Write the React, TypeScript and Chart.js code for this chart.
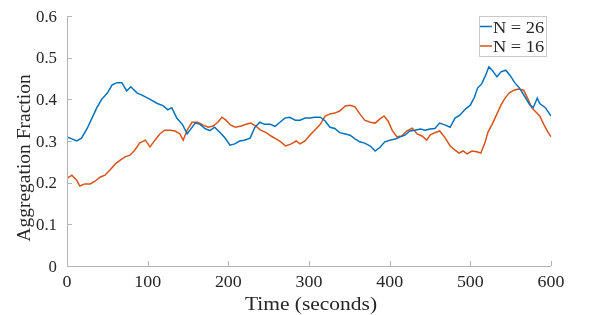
import React, { useEffect, useRef } from "react";
import { Chart, registerables } from "chart.js";

Chart.register(...registerables);

const timeN26 = [0, 6, 12, 18, 25, 31, 37, 43, 50, 56, 62, 68, 74, 79, 87, 93, 103, 112, 119, 125, 130, 136, 143, 149, 152, 159, 165, 171, 177, 183, 190, 196, 202, 208, 214, 220, 227, 233, 239, 245, 252, 258, 264, 270, 276, 283, 289, 295, 301, 307, 314, 320, 326, 332, 338, 345, 351, 357, 363, 369, 376, 382, 388, 394, 400, 407, 413, 419, 425, 431, 438, 444, 450, 456, 462, 469, 475, 481, 487, 493, 500, 505, 509, 514, 519, 523, 527, 533, 538, 544, 549, 555, 561, 568, 574, 578, 583, 586, 593, 600];
const valuesN26 = [0.31, 0.305, 0.3, 0.307, 0.33, 0.355, 0.38, 0.4, 0.415, 0.435, 0.44, 0.44, 0.42, 0.43, 0.415, 0.41, 0.4, 0.39, 0.385, 0.375, 0.38, 0.355, 0.34, 0.317, 0.325, 0.343, 0.34, 0.33, 0.325, 0.333, 0.32, 0.307, 0.29, 0.293, 0.3, 0.302, 0.307, 0.333, 0.345, 0.34, 0.34, 0.335, 0.345, 0.355, 0.357, 0.35, 0.35, 0.355, 0.355, 0.357, 0.357, 0.348, 0.333, 0.33, 0.32, 0.317, 0.314, 0.305, 0.298, 0.295, 0.288, 0.276, 0.285, 0.298, 0.302, 0.305, 0.31, 0.314, 0.324, 0.326, 0.329, 0.326, 0.329, 0.33, 0.343, 0.338, 0.333, 0.355, 0.362, 0.375, 0.386, 0.405, 0.427, 0.437, 0.458, 0.478, 0.47, 0.454, 0.466, 0.47, 0.458, 0.44, 0.427, 0.405, 0.386, 0.38, 0.403, 0.39, 0.38, 0.36];

const timeN16 = [0, 6, 12, 16, 22, 29, 35, 41, 47, 53, 60, 66, 72, 78, 84, 90, 97, 103, 109, 115, 121, 128, 134, 140, 144, 149, 155, 162, 169, 175, 181, 187, 192, 197, 203, 209, 216, 222, 228, 234, 240, 247, 253, 259, 265, 271, 278, 284, 289, 295, 301, 307, 314, 320, 326, 332, 338, 345, 351, 357, 363, 369, 376, 382, 388, 393, 398, 403, 409, 415, 421, 428, 434, 440, 446, 450, 456, 462, 469, 475, 481, 486, 491, 496, 502, 508, 513, 518, 522, 527, 533, 538, 543, 548, 554, 560, 566, 571, 576, 581, 586, 591, 596, 600];
const valuesN16 = [0.21, 0.218, 0.206, 0.192, 0.197, 0.197, 0.204, 0.213, 0.218, 0.23, 0.245, 0.254, 0.262, 0.266, 0.278, 0.295, 0.302, 0.286, 0.302, 0.317, 0.326, 0.326, 0.324, 0.317, 0.302, 0.326, 0.345, 0.345, 0.338, 0.333, 0.336, 0.345, 0.357, 0.35, 0.338, 0.333, 0.336, 0.34, 0.343, 0.336, 0.326, 0.32, 0.312, 0.305, 0.298, 0.288, 0.293, 0.3, 0.293, 0.3, 0.314, 0.326, 0.34, 0.36, 0.365, 0.367, 0.372, 0.384, 0.386, 0.382, 0.365, 0.35, 0.345, 0.343, 0.353, 0.36, 0.348, 0.326, 0.31, 0.312, 0.324, 0.331, 0.317, 0.312, 0.302, 0.314, 0.32, 0.324, 0.307, 0.288, 0.278, 0.271, 0.276, 0.269, 0.276, 0.274, 0.271, 0.295, 0.322, 0.34, 0.365, 0.386, 0.403, 0.415, 0.422, 0.425, 0.422, 0.403, 0.38, 0.37, 0.36, 0.34, 0.322, 0.31];

const xTicks = [0, 100, 200, 300, 400, 500, 600];
const yTicks = [0, 0.1, 0.2, 0.3, 0.4, 0.5, 0.6];
const xTickLabels = ["0", "100", "200", "300", "400", "500", "600"];
const yTickLabels = ["0", "0.1", "0.2", "0.3", "0.4", "0.5", "0.6"];
const seriesLabels = ["N = 26", "N = 16"];
const seriesColors = ["#0072BD", "#D95319"];
const xTitle = "Time (seconds)";
const yTitle = "Aggregation Fraction";

const FONT = "'Liberation Serif', 'DejaVu Serif', serif";
const AXIS_COLOR = "#b3b3b3";
const TEXT_COLOR = "#262626";

function drawText(
  ctx: CanvasRenderingContext2D,
  text: string,
  x: number,
  y: number,
  size: number,
  align: CanvasTextAlign,
  stretch = 1,
  rotate = 0
) {
  ctx.save();
  ctx.font = size + "px " + FONT;
  ctx.fillStyle = TEXT_COLOR;
  ctx.textBaseline = "alphabetic";
  ctx.textAlign = align;
  ctx.translate(x, y);
  if (rotate) ctx.rotate(rotate);
  ctx.scale(stretch, 1);
  ctx.fillText(text, 0, 0);
  ctx.restore();
}

const decorPlugin = {
  id: "decor",
  afterDraw(chart: any) {
    const ctx = chart.ctx;
    const area = chart.chartArea;
    const xs = chart.scales.x;
    const ys = chart.scales.y;
    ctx.save();
    ctx.strokeStyle = AXIS_COLOR;
    ctx.lineWidth = 1;
    ctx.beginPath();
    ctx.moveTo(area.left + 0.5, area.top);
    ctx.lineTo(area.left + 0.5, area.bottom + 0.5);
    ctx.lineTo(area.right, area.bottom + 0.5);
    ctx.stroke();
    ctx.beginPath();
    for (const v of xTicks) {
      const px = Math.round(xs.getPixelForValue(v)) + 0.5;
      ctx.moveTo(px, area.bottom);
      ctx.lineTo(px, area.bottom - 5);
    }
    for (const v of yTicks) {
      const py = Math.round(ys.getPixelForValue(v)) + 0.5;
      ctx.moveTo(area.left, py);
      ctx.lineTo(area.left + 5, py);
    }
    ctx.stroke();
    ctx.restore();

    // tick labels
    xTicks.forEach((v, i) => {
      drawText(ctx, xTickLabels[i], xs.getPixelForValue(v), area.bottom + 21, 16, "center", 1.12);
    });
    yTicks.forEach((v, i) => {
      drawText(ctx, yTickLabels[i], area.left - 10, ys.getPixelForValue(v) + 5.5, 16, "right", 1.05);
    });

    // axis titles
    drawText(ctx, xTitle, (area.left + area.right) / 2 + 2, 310, 19.5, "center", 1.1);
    drawText(ctx, yTitle, 30, 158, 19.5, "center", 1, -Math.PI / 2);

    // legend
    ctx.save();
    const bx = 479.5, by = 16.5, bw = 67, bh = 40;
    ctx.fillStyle = "#ffffff";
    ctx.fillRect(bx, by, bw, bh);
    ctx.strokeStyle = "#c8c8c8";
    ctx.lineWidth = 1;
    ctx.strokeRect(bx, by, bw, bh);
    ctx.restore();
    chart.data.datasets.forEach((ds: any, i: number) => {
      const cy = 26.5 + i * 19.5;
      ctx.save();
      ctx.strokeStyle = ds.borderColor;
      ctx.lineWidth = 1.5;
      ctx.beginPath();
      ctx.moveTo(480, cy);
      ctx.lineTo(492, cy);
      ctx.stroke();
      ctx.restore();
      drawText(ctx, ds.label, 493, cy + 6, 17, "left", 1.08);
    });
  },
};

export default function App() {
  const ref = useRef<HTMLCanvasElement | null>(null);
  useEffect(() => {
    document.body.style.margin = "0";
    const canvas = ref.current!;
    const chart = new Chart(canvas, {
      type: "line",
      data: {
        datasets: [
          {
            label: seriesLabels[0],
            data: timeN26.map((t, i) => ({ x: t, y: valuesN26[i] })),
            borderColor: seriesColors[0],
            backgroundColor: seriesColors[0],
            borderWidth: 1.5,
            pointRadius: 0,
            tension: 0,
          },
          {
            label: seriesLabels[1],
            data: timeN16.map((t, i) => ({ x: t, y: valuesN16[i] })),
            borderColor: seriesColors[1],
            backgroundColor: seriesColors[1],
            borderWidth: 1.5,
            pointRadius: 0,
            tension: 0,
          },
        ],
      },
      options: {
        animation: false,
        responsive: false,
        maintainAspectRatio: false,
        layout: { padding: { left: 0, right: 47, top: 16, bottom: 0 } },
        plugins: { legend: { display: false }, tooltip: { enabled: false } },
        scales: {
          x: {
            type: "linear",
            min: 0,
            max: 600,
            afterFit: (s: any) => { s.height = 49; },
            afterBuildTicks: (s: any) => { s.ticks = xTicks.map((v) => ({ value: v })); },
            border: { display: false },
            grid: { display: false, drawTicks: false },
            ticks: { display: false },
          },
          y: {
            type: "linear",
            min: 0,
            max: 0.6,
            afterFit: (s: any) => { s.width = 67; },
            afterBuildTicks: (s: any) => { s.ticks = yTicks.map((v) => ({ value: v })); },
            border: { display: false },
            grid: { display: false, drawTicks: false },
            ticks: { display: false },
          },
        },
      },
      plugins: [decorPlugin],
    });
    return () => chart.destroy();
  }, []);
  return (
    <div style={{ width: 598, height: 315 }}>
      <canvas ref={ref} width={598} height={315} style={{ display: "block" }} />
    </div>
  );
}
